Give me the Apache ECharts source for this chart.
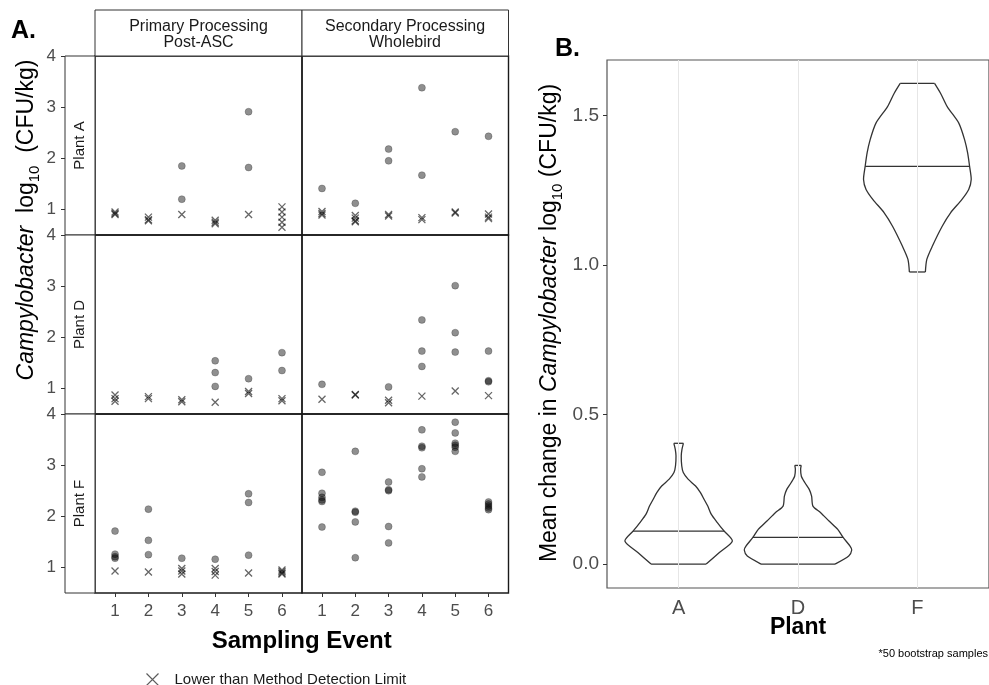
<!DOCTYPE html>
<html>
<head>
<meta charset="utf-8">
<script src="https://cdn.jsdelivr.net/npm/echarts@6/dist/echarts.min.js"></script>
<style>
html, body { margin: 0; padding: 0; background: #fff; }
#main { width: 989px; height: 685px; }
</style>
</head>
<body>
<div id="main"></div>
<script>
// facet labels
var plants = ['Plant A', 'Plant D', 'Plant F'];
var stages = ['Primary Processing\nPost-ASC', 'Secondary Processing\nWholebird'];
var events = [1, 2, 3, 4, 5, 6];
var yTicksA = [1, 2, 3, 4];

// [sampling event, log10 CFU/kg] - detected
var detA1 = [[3, 1.20], [3, 1.85], [5, 2.91], [5, 1.82]];
var detA2 = [[1, 1.41], [2, 1.12], [3, 2.18], [3, 1.95], [4, 3.38], [4, 1.67], [5, 2.52], [6, 2.43]];
var detD1 = [[4, 1.54], [4, 1.31], [4, 1.04], [5, 1.19], [6, 1.70], [6, 1.35]];
var detD2 = [[1, 1.08], [3, 1.03], [4, 2.34], [4, 1.73], [4, 1.43], [5, 3.01], [5, 2.09], [5, 1.71], [6, 1.73], [6, 1.15], [6, 1.13]];
var detF1 = [[1, 1.71], [1, 1.26], [1, 1.21], [1, 1.18], [2, 2.14], [2, 1.53], [2, 1.25], [3, 1.18], [4, 1.16], [5, 2.44], [5, 2.27], [5, 1.24]];
var detF2 = [[1, 2.86], [1, 2.45], [1, 2.37], [1, 2.32], [1, 2.29], [1, 1.79], [2, 3.27], [2, 2.10], [2, 2.08], [2, 1.89], [2, 1.19],
  [3, 2.67], [3, 2.52], [3, 2.50], [3, 1.80], [3, 1.48], [4, 3.69], [4, 3.37], [4, 3.34], [4, 2.93], [4, 2.77],
  [5, 3.84], [5, 3.63], [5, 3.43], [5, 3.39], [5, 3.35], [5, 3.27], [6, 2.28], [6, 2.24], [6, 2.20], [6, 2.16], [6, 2.13]];

// lower than method detection limit
var lodA1 = [[1, 0.95], [1, 0.92], [1, 0.90], [2, 0.85], [2, 0.80], [2, 0.78], [3, 0.90], [4, 0.79], [4, 0.75], [4, 0.72], [5, 0.90], [6, 1.05], [6, 0.95], [6, 0.85], [6, 0.75], [6, 0.65]];
var lodA2 = [[1, 0.96], [1, 0.92], [1, 0.89], [2, 0.88], [2, 0.83], [2, 0.78], [2, 0.76], [3, 0.90], [3, 0.87], [4, 0.84], [4, 0.80], [5, 0.95], [5, 0.93], [6, 0.91], [6, 0.85], [6, 0.82]];
var lodD1 = [[1, 0.87], [1, 0.80], [1, 0.75], [2, 0.84], [2, 0.80], [3, 0.78], [3, 0.74], [4, 0.73], [5, 0.94], [5, 0.90], [6, 0.80], [6, 0.76]];
var lodD2 = [[1, 0.79], [2, 0.88], [2, 0.87], [3, 0.77], [3, 0.72], [4, 0.85], [5, 0.95], [6, 0.86]];
var lodF1 = [[1, 0.93], [2, 0.91], [3, 0.98], [3, 0.93], [3, 0.87], [4, 0.98], [4, 0.92], [4, 0.85], [5, 0.89], [6, 0.95], [6, 0.92], [6, 0.89], [6, 0.87]];
var lodF2 = [];

// panel B: violins, [mean change, half width as share of one category]
var plantsB = ['A', 'D', 'F'];
var yTicksB = [0, 0.5, 1.0, 1.5];
var violinA = [[0.000, 0.231], [0.038, 0.339], [0.077, 0.450], [0.110, 0.382], [0.138, 0.326], [0.166, 0.274], [0.194, 0.244],
  [0.216, 0.214], [0.239, 0.183], [0.261, 0.142], [0.284, 0.079], [0.306, 0.039], [0.329, 0.026], [0.362, 0.022], [0.384, 0.028], [0.404, 0.040]];
var violinD = [[0.000, 0.310], [0.027, 0.425], [0.047, 0.450], [0.060, 0.436], [0.089, 0.378], [0.116, 0.333], [0.144, 0.260],
  [0.172, 0.190], [0.194, 0.125], [0.227, 0.114], [0.250, 0.094], [0.272, 0.058], [0.294, 0.028], [0.317, 0.022], [0.330, 0.027]];
var violinF = [[0.977, 0.067], [1.019, 0.079], [1.063, 0.125], [1.130, 0.208], [1.175, 0.278], [1.219, 0.372], [1.253, 0.430],
  [1.286, 0.451], [1.330, 0.4375], [1.375, 0.421], [1.419, 0.396], [1.475, 0.347], [1.530, 0.250], [1.575, 0.194], [1.608, 0.144]];
var violinMedians = [0.110, 0.089, 1.330];

var FONT = '"Liberation Sans", Arial, Helvetica, sans-serif';
var detSets = [detA1, detA2, detD1, detD2, detF1, detF2];
var lodSets = [lodA1, lodA2, lodD1, lodD2, lodF1, lodF2];
var violins = [violinA, violinD, violinF];
var LOD_NAME = 'Lower than Method Detection Limit';
var CROSS = 'path://M0,0L10,10M10,0L0,10';

var colLeft = [95, 302], colW = [207, 206.5];
var rowTop = [56, 235, 414], rowH = 179;

var grids = [], xAxes = [], yAxes = [], series = [];
for (var r = 0; r < 3; r++) {
  for (var c = 0; c < 2; c++) {
    var i = r * 2 + c;
    grids.push({left: colLeft[c], top: rowTop[r], width: colW[c], height: rowH,
      show: true, borderColor: '#1a1a1a', borderWidth: 1.4, backgroundColor: 'transparent'});
    xAxes.push({
      gridIndex: i, type: 'value', min: 0.4, max: 6.6,
      axisLine: {show: false}, splitLine: {show: false},
      axisTick: {show: r === 2, customValues: events, length: 4, lineStyle: {color: '#333'}},
      axisLabel: {show: r === 2, customValues: events, margin: 10, color: '#4d4d4d', fontSize: 17, fontFamily: FONT}
    });
    yAxes.push({
      gridIndex: i, type: 'value', min: 0.5, max: 4, offset: 30,
      axisLine: {show: false}, splitLine: {show: false},
      axisTick: {show: c === 0, customValues: yTicksA, length: 4, lineStyle: {color: '#333'}},
      axisLabel: {show: c === 0, customValues: yTicksA, margin: 9, color: '#4d4d4d', fontSize: 17, fontFamily: FONT}
    });
    series.push({
      type: 'scatter', name: 'Detected', xAxisIndex: i, yAxisIndex: i,
      data: detSets[i], symbol: 'circle', symbolSize: 7,
      itemStyle: {color: 'rgba(0,0,0,0.55)', borderColor: 'rgba(0,0,0,0.35)', borderWidth: 0.8}
    });
    series.push({
      type: 'scatter', name: LOD_NAME, xAxisIndex: i, yAxisIndex: i,
      data: lodSets[i], symbol: CROSS, symbolSize: 7,
      itemStyle: {color: 'none', borderColor: 'rgba(0,0,0,0.75)', borderWidth: 1.3}
    });
  }
}

// panel B
grids.push({left: 607, top: 60, width: 383, height: 528,
  show: true, borderColor: '#555', borderWidth: 1.2, backgroundColor: 'transparent'});
xAxes.push({
  gridIndex: 6, type: 'value', min: 0.4, max: 3.6,
  axisLine: {show: false}, splitLine: {show: false},
  axisTick: {customValues: [1, 2, 3], length: 4, lineStyle: {color: '#333'}},
  axisLabel: {customValues: [1, 2, 3], margin: 10, color: '#4d4d4d', fontSize: 20, fontFamily: FONT,
    formatter: function (v) { return plantsB[Math.round(v) - 1]; }}
});
yAxes.push({
  gridIndex: 6, type: 'value', min: -0.08, max: 1.686,
  axisLine: {show: false}, splitLine: {show: false},
  axisTick: {customValues: yTicksB, length: 4, lineStyle: {color: '#333'}},
  axisLabel: {customValues: yTicksB, margin: 8, color: '#4d4d4d', fontSize: 19, fontFamily: FONT,
    formatter: function (v) { return v.toFixed(1); }}
});

function widthAt(prof, y) {
  for (var k = 1; k < prof.length; k++) {
    if (y <= prof[k][0]) {
      var t = (y - prof[k - 1][0]) / (prof[k][0] - prof[k - 1][0]);
      return prof[k - 1][1] + t * (prof[k][1] - prof[k - 1][1]);
    }
  }
  return prof[prof.length - 1][1];
}

series.push({
  type: 'custom', name: 'violin', xAxisIndex: 6, yAxisIndex: 6,
  data: [[1], [2], [3]],
  encode: {x: 0},
  renderItem: function (params, api) {
    var x = api.value(0);
    var prof = violins[params.dataIndex];
    var right = prof.map(function (p) { return api.coord([x + p[1], p[0]]); });
    var left = prof.slice().reverse().map(function (p) { return api.coord([x - p[1], p[0]]); });
    var m = violinMedians[params.dataIndex];
    var hw = widthAt(prof, m);
    var a = api.coord([x - hw, m]), b = api.coord([x + hw, m]);
    var lineStyle = {stroke: '#333', lineWidth: 1.3, fill: 'none'};
    return {
      type: 'group',
      children: [
        {type: 'polyline', shape: {points: right, smooth: 0.25}, style: lineStyle},
        {type: 'polyline', shape: {points: left, smooth: 0.25}, style: lineStyle},
        {type: 'line', shape: {x1: left[0][0], y1: left[0][1], x2: right[right.length - 1][0], y2: right[right.length - 1][1]}, style: lineStyle},
        {type: 'line', shape: {x1: left[left.length - 1][0], y1: left[left.length - 1][1], x2: right[0][0], y2: right[0][1]}, style: lineStyle},
        {type: 'line', shape: {x1: a[0], y1: a[1], x2: b[0], y2: b[1]}, style: lineStyle}
      ]
    };
  },
  markLine: {
    silent: true, symbol: 'none', label: {show: false},
    lineStyle: {color: '#e6e6e6', type: 'solid', width: 1},
    data: [{xAxis: 1}, {xAxis: 2}, {xAxis: 3}]
  },
  z: 3
});

function stripText(x, y, text, size, rot) {
  return {type: 'text', x: x, y: y, rotation: rot || 0, z: 10,
    style: {text: text, fill: '#1a1a1a', font: size + 'px ' + FONT, align: 'center', verticalAlign: 'middle', lineHeight: 16}};
}

var titleRich = {
  i: {fontStyle: 'italic', fontSize: 23, fontFamily: FONT, lineHeight: 30},
  s: {fontSize: 15, fontFamily: FONT, verticalAlign: 'bottom', lineHeight: 30}
};

var graphics = [
  {type: 'text', left: 11, top: 19, style: {text: 'A.', fill: '#000', font: 'bold 25px ' + FONT}},
  {type: 'text', left: 555, top: 37, style: {text: 'B.', fill: '#000', font: 'bold 25px ' + FONT}},
  // top strips
  {type: 'rect', shape: {x: 95, y: 10, width: 207, height: 46}, style: {fill: '#fff', stroke: '#333', lineWidth: 1}},
  {type: 'rect', shape: {x: 302, y: 10, width: 206.5, height: 46}, style: {fill: '#fff', stroke: '#333', lineWidth: 1}},
  stripText(198.5, 35, stages[0], 16),
  stripText(405, 35, stages[1], 16),
  // titles
  {type: 'text', x: 301.7, y: 641, style: {text: 'Sampling Event', fill: '#000', font: 'bold 24px ' + FONT, align: 'center', verticalAlign: 'middle'}},
  {type: 'text', x: 798, y: 628, style: {text: 'Plant', fill: '#000', font: 'bold 23px ' + FONT, align: 'center', verticalAlign: 'middle'}},
  {type: 'text', right: 1, top: 648, style: {text: '*50 bootstrap samples', fill: '#000', font: '11px ' + FONT}},
  {type: 'text', x: 27, y: 220, rotation: Math.PI / 2,
    style: {text: '{i|Campylobacter}  log{s|10}  (CFU/kg)', fill: '#000', font: '23px ' + FONT, align: 'center', verticalAlign: 'middle', rich: titleRich}},
  {type: 'text', x: 550, y: 323, rotation: Math.PI / 2,
    style: {text: 'Mean change in {i|Campylobacter} log{s|10} (CFU/kg)', fill: '#000', font: '23px ' + FONT, align: 'center', verticalAlign: 'middle', rich: titleRich}}
];
// row strips
for (var r2 = 0; r2 < 3; r2++) {
  graphics.push({type: 'rect', shape: {x: 65, y: rowTop[r2], width: 30, height: rowH}, style: {fill: '#fff', stroke: '#333', lineWidth: 1}});
  graphics.push(stripText(80, rowTop[r2] + rowH / 2, plants[r2], 15, Math.PI / 2));
}

var chart = echarts.init(document.getElementById('main'), null, {renderer: 'canvas'});
chart.setOption({
  animation: false,
  backgroundColor: '#fff',
  textStyle: {fontFamily: FONT},
  grid: grids,
  xAxis: xAxes,
  yAxis: yAxes,
  legend: {
    data: [LOD_NAME], left: 139, top: 666, itemWidth: 12, itemHeight: 12,
    selectedMode: false,
    itemStyle: {color: 'none', borderColor: '#333', borderWidth: 1.2},
    textStyle: {fontSize: 15, color: '#1a1a1a', fontFamily: FONT, padding: [0, 0, 0, 11]}
  },
  graphic: graphics,
  series: series
});
</script>
</body>
</html>
